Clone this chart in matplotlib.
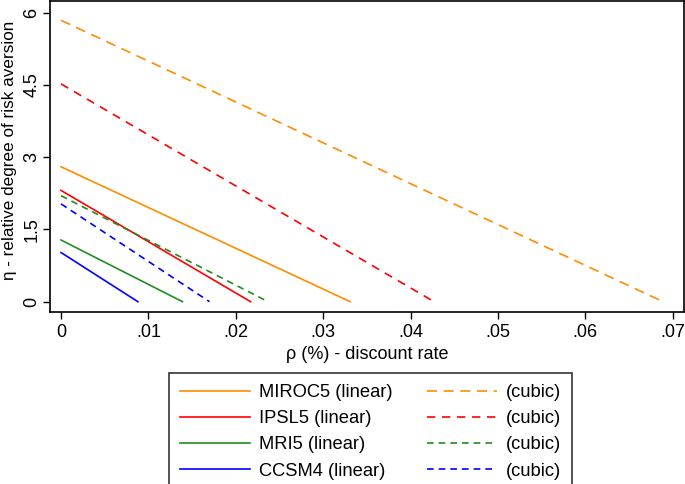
import numpy as np
import matplotlib
matplotlib.use("Agg")
from matplotlib import pyplot as plt

plt.rcParams['font.family'] = ['Liberation Sans', 'DejaVu Sans']

# intercepts (eta at rho = 0) and end points (rho where eta = 0)
models = ["MIROC5", "IPSL5", "MRI5", "CCSM4"]
colors = ["#ff8c00", "#ff0000", "#228b22", "#0000ff"]
lin_eta0 = [2.80, 2.31, 1.28, 1.02]
lin_rho1 = [0.0331, 0.0217, 0.0139, 0.0088]
cub_eta0 = [5.84, 4.52, 2.20, 2.03]
cub_rho1 = [0.0689, 0.0427, 0.0237, 0.0170]
dashes = [(6, 4), (5, 4), (4, 3), (4, 3)]

xticks = [0, .01, .02, .03, .04, .05, .06, .07]
xticklabels = ["0", ".01", ".02", ".03", ".04", ".05", ".06", ".07"]
yticks = [0, 1.5, 3, 4.5, 6]
yticklabels = ["0", "1.5", "3", "4.5", "6"]

fig = plt.figure(figsize=(6.85, 4.84), dpi=100)
ax = fig.add_axes([50/685, 1 - 312/484, 634/685, 311/484])

lin_handles = []
cub_handles = []
for i in range(len(models)):
    h1, = ax.plot([0, lin_rho1[i]], [lin_eta0[i], 0], color=colors[i], lw=1.2,
                  label=models[i] + " (linear)")
    h2, = ax.plot([0, cub_rho1[i]], [cub_eta0[i], 0], color=colors[i], lw=1.2,
                  dashes=dashes[i], label="(cubic)")
    lin_handles.append(h1)
    cub_handles.append(h2)

ax.set_xlim(-0.00126, 0.0713)
ax.set_ylim(-0.214, 6.24)
ax.set_xticks(xticks)
ax.set_xticklabels(xticklabels)
ax.set_yticks(yticks)
ax.set_yticklabels(yticklabels, rotation=90, va="center")
ax.tick_params(direction="out", length=5, width=1, labelsize=13, colors="black")
ax.tick_params(axis="y", pad=2)
for s in ax.spines.values():
    s.set_linewidth(1.2)

ax.set_xlabel("ρ (%) - discount rate", fontsize=13, labelpad=4)
ax.set_ylabel("η - relative degree of risk aversion", fontsize=12.3)
ax.yaxis.set_label_coords(-0.052, 0.52)

leg = fig.legend(lin_handles + cub_handles,
                 [h.get_label() for h in lin_handles + cub_handles],
                 ncol=2, loc="upper left",
                 bbox_to_anchor=(169/685, 1 - 373/484),
                 fancybox=False, edgecolor="black", fontsize=13.2,
                 handlelength=3.8, handletextpad=0.5, columnspacing=1.9,
                 labelspacing=0.5, borderaxespad=0, borderpad=0.6)
leg.get_frame().set_linewidth(1.2)

fig.savefig("out.png", dpi=100)
